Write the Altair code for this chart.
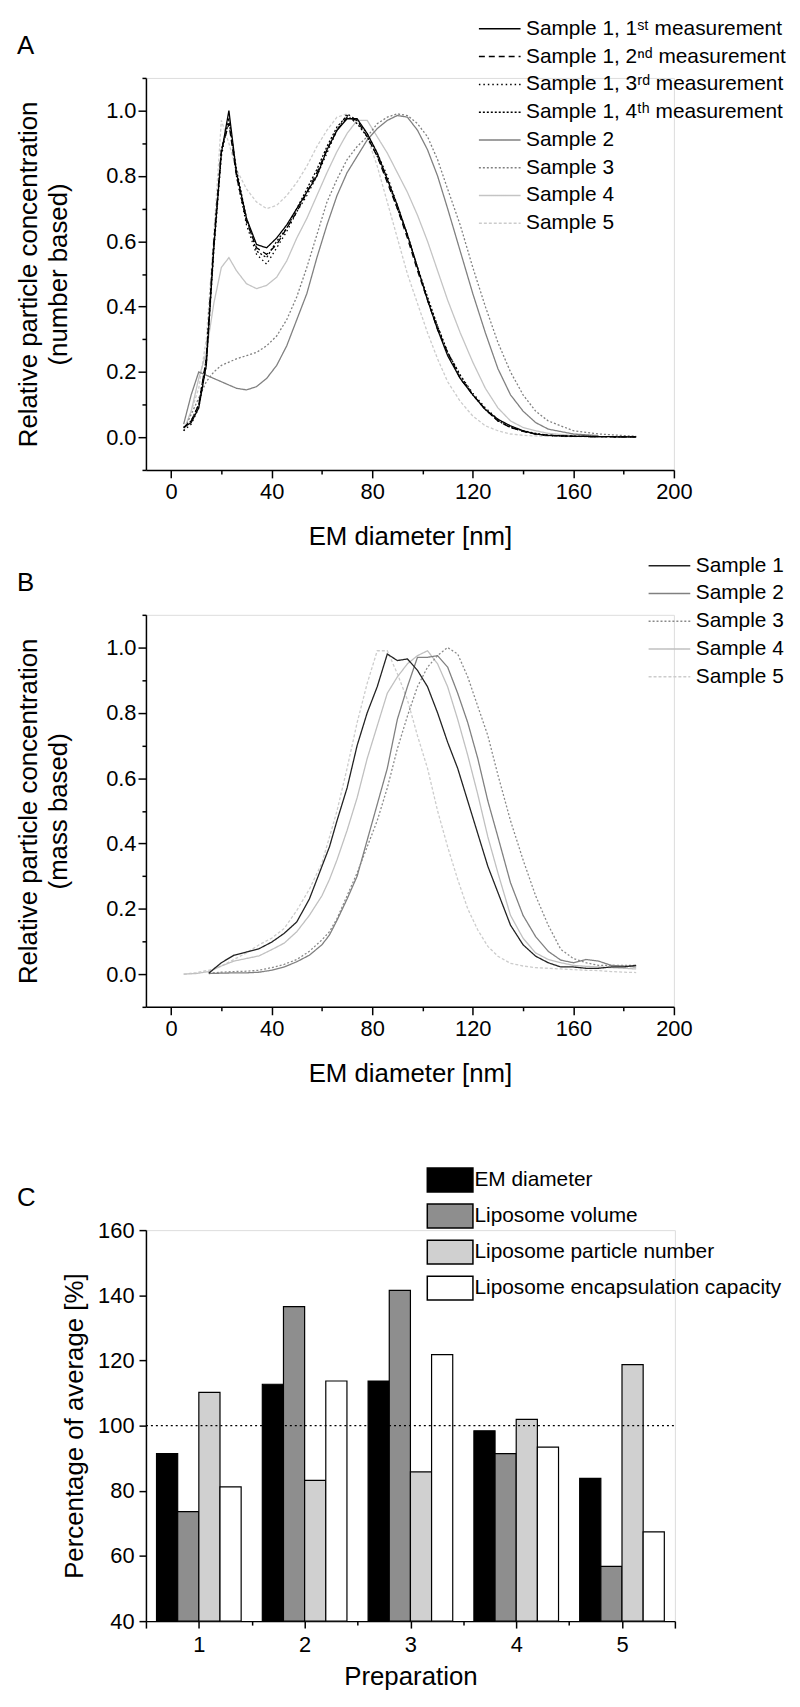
import altair as alt
import pandas as pd

FONT = "Liberation Sans"

# ---------------- Panel A (number based) ----------------
a_x = [5, 8, 11, 14, 17, 20, 23, 26, 30, 34, 38, 42, 46, 50, 54, 58, 62, 66, 70, 74,
       78, 82, 86, 90, 94, 98, 102, 106, 110, 115, 120, 125, 130, 135, 140, 145, 150, 160, 170, 185]
a_s1_m1 = [0.03, 0.045, 0.09, 0.22, 0.58, 0.87, 1.0, 0.81, 0.67, 0.59, 0.58, 0.61, 0.65, 0.70, 0.75, 0.80,
           0.88, 0.94, 0.975, 0.975, 0.93, 0.87, 0.79, 0.71, 0.62, 0.52, 0.42, 0.33, 0.25, 0.18, 0.13, 0.085,
           0.055, 0.035, 0.02, 0.01, 0.006, 0.003, 0.002, 0.001]
a_s1_m2 = [0.03, 0.05, 0.10, 0.24, 0.60, 0.88, 0.96, 0.80, 0.66, 0.58, 0.56, 0.59, 0.64, 0.69, 0.75, 0.81,
           0.88, 0.94, 0.98, 0.97, 0.92, 0.86, 0.78, 0.70, 0.61, 0.51, 0.42, 0.33, 0.26, 0.18, 0.13, 0.085,
           0.05, 0.03, 0.018, 0.01, 0.006, 0.003, 0.002, 0.001]
a_s1_m3 = [0.02, 0.04, 0.09, 0.22, 0.57, 0.86, 0.98, 0.80, 0.65, 0.56, 0.53, 0.58, 0.63, 0.69, 0.74, 0.80,
           0.87, 0.94, 0.99, 0.97, 0.93, 0.87, 0.80, 0.71, 0.62, 0.52, 0.42, 0.34, 0.26, 0.19, 0.135, 0.09,
           0.055, 0.03, 0.018, 0.01, 0.005, 0.003, 0.002, 0.001]
a_s1_m4 = [0.03, 0.05, 0.10, 0.24, 0.59, 0.88, 0.97, 0.82, 0.67, 0.57, 0.55, 0.60, 0.64, 0.70, 0.76, 0.82,
           0.89, 0.95, 0.985, 0.96, 0.92, 0.86, 0.79, 0.70, 0.62, 0.52, 0.43, 0.34, 0.26, 0.19, 0.13, 0.085,
           0.05, 0.03, 0.02, 0.012, 0.006, 0.003, 0.002, 0.001]
a_s2 = [0.04, 0.13, 0.20, 0.19, 0.18, 0.17, 0.16, 0.15, 0.145, 0.155, 0.18, 0.22, 0.28, 0.36, 0.44, 0.55,
        0.65, 0.74, 0.81, 0.86, 0.91, 0.945, 0.97, 0.985, 0.98, 0.94, 0.88, 0.80, 0.70, 0.57, 0.44, 0.32,
        0.21, 0.13, 0.08, 0.045, 0.025, 0.01, 0.005]
a_s3 = [0.02, 0.07, 0.12, 0.17, 0.20, 0.22, 0.23, 0.24, 0.25, 0.26, 0.28, 0.31, 0.36, 0.43, 0.52, 0.62,
        0.72, 0.79, 0.85, 0.89, 0.92, 0.96, 0.98, 0.99, 0.985, 0.96, 0.92, 0.85, 0.76, 0.65, 0.52, 0.40,
        0.29, 0.20, 0.13, 0.08, 0.05, 0.02, 0.01, 0.003]
a_s4 = [0.02, 0.08, 0.18, 0.26, 0.41, 0.52, 0.55, 0.51, 0.47, 0.455, 0.465, 0.49, 0.54, 0.61, 0.67, 0.74,
        0.81, 0.875, 0.93, 0.97, 0.97, 0.92, 0.87, 0.81, 0.75, 0.68, 0.60, 0.51, 0.42, 0.32, 0.23, 0.15,
        0.09, 0.05, 0.03, 0.02, 0.012, 0.005, 0.002]
a_s5 = [0.02, 0.08, 0.15, 0.30, 0.62, 0.97, 0.90, 0.82, 0.76, 0.72, 0.70, 0.71, 0.74, 0.78, 0.83, 0.89,
        0.94, 0.98, 0.99, 0.97, 0.92, 0.83, 0.72, 0.61, 0.50, 0.41, 0.32, 0.24, 0.17, 0.11, 0.065, 0.035,
        0.02, 0.01, 0.006, 0.004, 0.003, 0.002, 0.001, 0.0]
a_names = ["Sample 1, 1ˢᵗ measurement", "Sample 1, 2ⁿᵈ measurement", "Sample 1, 3ʳᵈ measurement",
           "Sample 1, 4ᵗʰ measurement", "Sample 2", "Sample 3", "Sample 4", "Sample 5"]
a_colors = ["#000000", "#000000", "#000000", "#000000", "#808080", "#808080", "#c4c4c4", "#cccccc"]
a_dashes = [[1, 0], [6, 4], [1.5, 3], [2, 2], [1, 0], [2, 2], [1, 0], [3, 2]]

# ---------------- Panel B (mass based) ----------------
b_x = [5, 10, 15, 20, 25, 30, 35, 40, 45, 50, 55, 60, 63, 66, 70, 74, 78, 82, 86, 90, 94, 98, 102,
       106, 110, 114, 118, 122, 126, 130, 135, 140, 145, 150, 155, 160, 165, 170, 175, 180, 185]
b_s1 = [0.003, 0.035, 0.058, 0.068, 0.078, 0.098, 0.125, 0.16, 0.23, 0.33, 0.39, 0.47, 0.57, 0.70, 0.80,
        0.88, 0.98, 0.96, 0.965, 0.93, 0.88, 0.80, 0.71, 0.63, 0.53, 0.43, 0.33, 0.25, 0.15, 0.09, 0.055,
        0.035, 0.022, 0.022, 0.018, 0.018, 0.022, 0.022, 0.027]
b_s2 = [0.002, 0.003, 0.004, 0.004, 0.006, 0.012, 0.022, 0.038, 0.058, 0.09, 0.12, 0.165, 0.23, 0.30,
        0.41, 0.52, 0.63, 0.78, 0.88, 0.97, 0.97, 0.975, 0.94, 0.86, 0.77, 0.66, 0.53, 0.42, 0.28, 0.18,
        0.115, 0.07, 0.043, 0.035, 0.045, 0.04, 0.027, 0.025, 0.022]
b_s3 = [0.003, 0.006, 0.008, 0.009, 0.012, 0.02, 0.03, 0.045, 0.07, 0.105, 0.13, 0.17, 0.24, 0.31, 0.39,
        0.47, 0.57, 0.69, 0.79, 0.88, 0.94, 0.975, 1.0, 0.98, 0.91, 0.82, 0.73, 0.61, 0.47, 0.35, 0.24,
        0.15, 0.076, 0.048, 0.035, 0.027, 0.027, 0.027, 0.027]
b_s4 = [0.0, 0.002, 0.008, 0.025, 0.04, 0.048, 0.056, 0.075, 0.095, 0.13, 0.18, 0.24, 0.29, 0.35, 0.44,
        0.54, 0.66, 0.76, 0.86, 0.91, 0.95, 0.975, 0.99, 0.95, 0.88, 0.78, 0.67, 0.55, 0.42, 0.31, 0.18,
        0.11, 0.065, 0.045, 0.035, 0.027, 0.024, 0.022, 0.02, 0.018, 0.016]
b_s5 = [0.0, 0.005, 0.012, 0.025, 0.045, 0.065, 0.09, 0.11, 0.14, 0.195, 0.26, 0.34, 0.42, 0.50, 0.63,
        0.77, 0.89, 0.99, 0.99, 0.92, 0.84, 0.73, 0.63, 0.50, 0.39, 0.29, 0.20, 0.135, 0.085, 0.055, 0.033,
        0.025, 0.02, 0.018, 0.016, 0.014, 0.012, 0.011, 0.008, 0.006, 0.005]
b_names = ["Sample 1", "Sample 2", "Sample 3", "Sample 4", "Sample 5"]
b_colors = ["#222222", "#808080", "#8a8a8a", "#c0c0c0", "#cccccc"]
b_dashes = [[1, 0], [1, 0], [2, 2], [1, 0], [3, 2]]

# ---------------- Panel C (bars) ----------------
c_prep = [1, 2, 3, 4, 5]
c_series = ["EM diameter", "Liposome volume", "Liposome particle number", "Liposome encapsulation capacity"]
c_em = [91.4, 112.7, 113.7, 98.4, 83.8]
c_vol = [73.6, 136.5, 141.5, 91.4, 56.8]
c_num = [110.2, 83.2, 85.8, 101.9, 118.7]
c_enc = [81.2, 113.7, 121.8, 93.4, 67.4]
c_colors = ["#000000", "#8e8e8e", "#d0d0d0", "#ffffff"]
c_reference = [100]

panel_letters = ["A", "B", "C"]

# ---------- build tables ----------
rows_a = []
a_series = [(a_names[7], a_s5), (a_names[6], a_s4), (a_names[5], a_s3), (a_names[4], a_s2),
            (a_names[3], a_s1_m4), (a_names[2], a_s1_m3), (a_names[1], a_s1_m2), (a_names[0], a_s1_m1)]
for name, vs in a_series:
    for x, v in zip(a_x, vs):
        rows_a.append({"d": x, "v": v, "sa": name})
df_a = pd.DataFrame(rows_a)

rows_b = []
b_series = [(b_names[4], b_x, b_s5), (b_names[3], b_x, b_s4), (b_names[2], b_x[2:], b_s3),
            (b_names[1], b_x[2:], b_s2), (b_names[0], b_x[2:], b_s1)]
for name, xs, vs in b_series:
    for x, v in zip(xs, vs):
        rows_b.append({"d": x, "v": v, "sb": name})
df_b = pd.DataFrame(rows_b)

rows_c = []
for k, (name, vals) in enumerate(zip(c_series, [c_em, c_vol, c_num, c_enc])):
    for p, v in zip(c_prep, vals):
        rows_c.append({"prep": p, "k": k, "value": v, "cat": name})
df_c = pd.DataFrame(rows_c)
df_ref = pd.DataFrame({"ref": c_reference})

axis_style = dict(domainColor="black", domainWidth=1.5, tickColor="black", tickWidth=1.5,
                  labelFont=FONT, labelFontSize=22, labelColor="black", labelOverlap=False,
                  labelFlush=False, titleFont=FONT, titleFontSize=26, titleFontWeight="normal",
                  titleColor="black", grid=False)


def x_axis_nm():
    return alt.Axis(title="EM diameter [nm]", values=list(range(0, 201, 20)),
                    labelExpr="datum.value % 40 == 0 ? datum.label : ''",
                    tickSize={"condition": {"test": "datum.value % 40 != 0", "value": 4}, "value": 8},
                    labelPadding=4, titlePadding=21, **axis_style)


def y_axis_rel(title):
    return alt.Axis(title=title, values=[round(i * 0.1, 1) for i in range(-1, 12)],
                    labelExpr="(abs(round(datum.value*10)) % 2 == 0 && datum.value > -0.05 && datum.value < 1.05) ? format(datum.value, '.1f') : ''",
                    tickSize={"condition": {"test": "abs(round(datum.value*10)) % 2 == 1", "value": 4}, "value": 8},
                    labelPadding=2, titlePadding=34, titleLineHeight=31, **axis_style)


def letter(i):
    return alt.Chart(pd.DataFrame({"t": [panel_letters[i]]})).mark_text(
        font=FONT, fontSize=26, align="left", baseline="alphabetic", color="black"
    ).encode(text="t:N", x=alt.value(-130), y=alt.value(-24))


line_legend = dict(orient="none", title=None, labelFont=FONT, labelFontSize=21, labelColor="black",
                   labelLimit=0, symbolType="M-4.2,0H4.2", symbolSize=100, symbolStrokeWidth=1.5,
                   labelOffset=16, rowPadding=6, padding=0)

lines_a = alt.Chart(df_a).mark_line(strokeWidth=1.3).encode(
    x=alt.X("d:Q", scale=alt.Scale(domain=[-10, 200], nice=False, zero=False), axis=x_axis_nm()),
    y=alt.Y("v:Q", scale=alt.Scale(domain=[-0.1, 1.1], nice=False, zero=False),
            axis=y_axis_rel(["Relative particle concentration", "(number based)"])),
    color=alt.Color("sa:N", scale=alt.Scale(domain=a_names, range=a_colors),
                    legend=alt.Legend(legendX=346, legendY=-60, **line_legend)),
    strokeDash=alt.StrokeDash("sa:N", scale=alt.Scale(domain=a_names, range=a_dashes)),
    detail="sa:N",
)
chart_a = alt.layer(lines_a, letter(0)).properties(width=532, height=395)

lines_b = alt.Chart(df_b).mark_line(strokeWidth=1.3).encode(
    x=alt.X("d:Q", scale=alt.Scale(domain=[-10, 200], nice=False, zero=False), axis=x_axis_nm()),
    y=alt.Y("v:Q", scale=alt.Scale(domain=[-0.1, 1.1], nice=False, zero=False),
            axis=y_axis_rel(["Relative particle concentration", "(mass based)"])),
    color=alt.Color("sb:N", scale=alt.Scale(domain=b_names, range=b_colors),
                    legend=alt.Legend(legendX=517, legendY=-60, **line_legend)),
    strokeDash=alt.StrokeDash("sb:N", scale=alt.Scale(domain=b_names, range=b_dashes)),
    detail="sb:N",
)
chart_b = alt.layer(lines_b, letter(1)).properties(width=532, height=395)

bars = alt.Chart(df_c).mark_bar(stroke="black", strokeWidth=1.2).transform_calculate(
    x0="datum.prep + (datum.k - 2) * 0.2",
    x1="datum.prep + (datum.k - 1) * 0.2",
).encode(
    x=alt.X("x0:Q", scale=alt.Scale(domain=[0.5, 5.5], nice=False, zero=False),
            axis=alt.Axis(title="Preparation", values=[0.5, 1, 1.5, 2, 2.5, 3, 3.5, 4, 4.5, 5, 5.5],
                          labelExpr="datum.value % 1 == 0 ? format(datum.value, 'd') : ''",
                          tickSize={"condition": {"test": "datum.value % 1 != 0 && datum.value > 0.6 && datum.value < 5.4", "value": 4}, "value": 7},
                          labelPadding=7, titlePadding=8, **axis_style)),
    x2="x1:Q",
    y=alt.Y("value:Q", scale=alt.Scale(domain=[40, 160], nice=False, zero=False),
            axis=alt.Axis(title="Percentage of average [%]", values=list(range(40, 161, 10)),
                          labelExpr="datum.value % 20 == 0 ? datum.label : ''",
                          tickSize={"condition": {"test": "datum.value % 20 != 0", "value": 4}, "value": 7},
                          labelPadding=5, titlePadding=10, **axis_style)),
    y2=alt.datum(40),
    fill=alt.Fill("cat:N", scale=alt.Scale(domain=c_series, range=c_colors),
                  legend=alt.Legend(orient="none", legendX=296, legendY=-61, title=None,
                                    labelFont=FONT, labelFontSize=21, labelColor="black", labelLimit=0,
                                    symbolType="M-4.6,-2.4H4.6V2.4H-4.6Z", symbolSize=100,
                                    symbolStrokeColor="black", symbolStrokeWidth=1.5, symbolOpacity=1,
                                    labelOffset=14, rowPadding=5.3, padding=0)),
)
ref_line = alt.Chart(df_ref).mark_rule(color="black", strokeWidth=1.5, strokeDash=[2, 3]).encode(
    y=alt.Y("ref:Q"), x=alt.datum(0.5), x2=alt.datum(5.5))
chart_c = alt.layer(bars, ref_line, letter(2)).properties(width=533, height=394)

top = alt.vconcat(chart_a, chart_b, spacing=4).resolve_scale(
    color="independent", strokeDash="independent", x="independent", y="independent")
chart = alt.vconcat(top, chart_c, spacing=82).resolve_scale(
    color="independent", strokeDash="independent", fill="independent", x="independent", y="independent"
).properties(padding={"left": 6, "top": 3, "right": 5, "bottom": 2}).configure_view(stroke=None).configure(font=FONT)

chart.save("out.html", embed_options={"renderer": "svg", "actions": False})
